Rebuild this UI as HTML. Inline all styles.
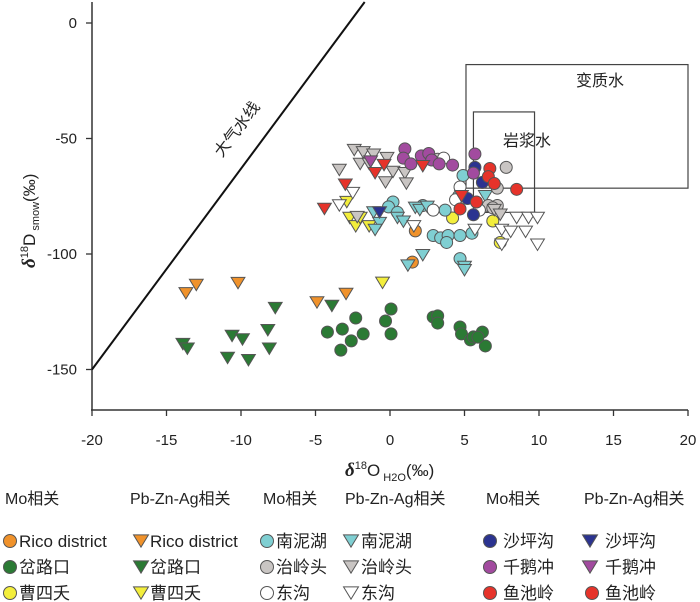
<!DOCTYPE html>
<html><head><meta charset="utf-8">
<style>
body{margin:0;background:#fff;width:700px;height:602px;overflow:hidden}
svg{display:block;font-family:"Liberation Sans","Noto Sans CJK SC",sans-serif}
</style></head>
<body>
<svg id="chart" width="700" height="602" viewBox="0 0 700 602">
<g id="axes"></g>
<g id="marks"></g>
<g id="legend"></g>
</svg>
<script>
const xTicks=[-20,-15,-10,-5,0,5,10,15,20];
const yTicks=[0,-50,-100,-150];
const ricoCirc=[[1.7,-90],[1.5,-103.5]];
const ricoTri=[[-13.7,-117],[-13.0,-113.4],[-10.2,-112.6],[-4.9,-121],[-2.95,-117.3]];
const chaCirc=[[-4.2,-133.8],[-3.2,-132.5],[-2.3,-127.7],[-1.8,-134.6],[-2.6,-137.6],[-3.3,-141.6],[0.07,-123.8],[-0.3,-129],[0.07,-134.6],[2.9,-127.3],[3.2,-126.8],[3.2,-129.9],[4.7,-131.6],[4.8,-134.6],[5.4,-137.2],[5.6,-135.9],[6.2,-133.8],[6.4,-139.8],[5.9,-136]];
const chaTri=[[-7.7,-123.4],[-3.9,-122.5],[-8.2,-133],[-8.1,-141],[-10.6,-135.5],[-9.9,-137],[-10.9,-145],[-9.5,-146],[-13.9,-139],[-13.6,-141]];
const caoCirc=[[4.2,-84.4],[6.9,-85.7],[7.4,-95]];
const caoTri=[[-2.7,-84.4],[-2.3,-88],[-2.0,-84.4],[-1.4,-88],[-2.9,-77.5],[-0.5,-112.5]];
const nanCirc=[[0.2,-77.5],[-0.1,-79.6],[0.5,-82],[2.2,-79],[3.7,-81],[4.9,-66],[2.9,-92],[3.4,-93],[3.9,-92],[4.7,-92],[3.8,-95],[4.7,-102],[5.5,-91],[4.6,-75]];
const nanTri=[[-1.1,-82],[-0.7,-86.6],[-1.0,-89.6],[0.5,-84.4],[0.9,-86],[1.7,-80],[2.0,-81],[2.5,-79.6],[6.4,-75],[2.2,-100.5],[1.2,-105],[5.0,-105.6],[5.0,-107]];
const yeCirc=[[7.8,-62.5],[7.2,-71.5],[6.6,-79],[7.2,-79],[6.9,-80],[3.2,-59]];
const yeTri=[[-2.4,-55],[-1.8,-56],[-1.1,-57],[-0.2,-58.5],[-2.0,-61],[-1.4,-61],[0.2,-64.5],[1.0,-65],[-0.3,-69],[1.1,-69.5],[-2.2,-84],[-3.4,-63.6],[7.0,-81],[7.4,-83]];
const dgCirc=[[3.6,-58.5],[4.7,-71],[4.4,-76.5],[2.9,-81],[6.0,-81]];
const dgTri=[[-2.5,-73.6],[-3.4,-79],[1.6,-88],[5.7,-89.6],[7.5,-89.6],[8.1,-90.4],[8.5,-84.4],[9.3,-84.4],[9.9,-84.4],[9.1,-90.4],[9.9,-96],[7.5,-96]];
const spCirc=[[5.7,-62.5],[6.2,-69],[5.2,-76],[5.6,-83]];
const spTri=[[-0.7,-82]];
const qeCirc=[[1.0,-54.5],[0.9,-58.5],[1.4,-61],[2.1,-57.5],[2.6,-56.5],[2.8,-59.3],[3.3,-61],[4.2,-61.5],[5.7,-56.7],[5.6,-65]];
const qeTri=[[-1.3,-60]];
const ycCirc=[[6.7,-63],[6.6,-66.5],[7.0,-69.5],[8.5,-72],[5.8,-77.5],[4.7,-80.5]];
const ycTri=[[-0.4,-61.5],[-1.0,-65],[2.2,-62],[-3.0,-70],[-4.4,-80.5],[4.8,-75]];

const C={orange:'#f0922b',green:'#2b7a34',yellow:'#f3ee3c',cyan:'#7fcfd2',gray:'#c9c5c3',white:'#ffffff',navy:'#2b3390',purple:'#a24b9f',red:'#e6332a'};
const series=[
 [ricoCirc,'c',C.orange,'rico-mo'],[ricoTri,'t',C.orange,'rico-pb'],
 [chaCirc,'c',C.green,'chalukou-mo'],[chaTri,'t',C.green,'chalukou-pb'],
 [caoCirc,'c',C.yellow,'caosiyao-mo'],[caoTri,'t',C.yellow,'caosiyao-pb'],
 [nanCirc,'c',C.cyan,'nannihu-mo'],[nanTri,'t',C.cyan,'nannihu-pb'],
 [yeCirc,'c',C.gray,'yelingtou-mo'],[yeTri,'t',C.gray,'yelingtou-pb'],
 [dgCirc,'c',C.white,'donggou-mo'],[dgTri,'t',C.white,'donggou-pb'],
 [spCirc,'c',C.navy,'shapinggou-mo'],[spTri,'t',C.navy,'shapinggou-pb'],
 [qeCirc,'c',C.purple,'qianechong-mo'],[qeTri,'t',C.purple,'qianechong-pb'],
 [ycCirc,'c',C.red,'yuchiling-mo'],[ycTri,'t',C.red,'yuchiling-pb']];

const NS='http://www.w3.org/2000/svg';
const X0=92,X1=688,XMIN=-20,XMAX=20;
const sx=v=>X0+(v-XMIN)/(XMAX-XMIN)*(X1-X0);
const sy=v=>23-v*2.31;
function el(tag,attrs,parent,text){const e=document.createElementNS(NS,tag);for(const k in attrs)e.setAttribute(k,attrs[k]);if(text!==undefined)e.textContent=text;parent.appendChild(e);return e;}
const axes=document.getElementById('axes'),marks=document.getElementById('marks'),leg=document.getElementById('legend');
const ink='#333';
let a=el('line',{x1:X0,y1:2,x2:X0,y2:410,stroke:ink,'stroke-width':1.5},axes);


a=el('line',{x1:X0-1,y1:410,x2:X1,y2:410,stroke:ink,'stroke-width':1.5},axes);


xTicks.forEach(v=>{
 const t=el('line',{x1:sx(v),y1:410,x2:sx(v),y2:416,stroke:ink,'stroke-width':1.3},axes);
 
 
 const l=el('text',{x:sx(v),y:445,'text-anchor':'middle','font-size':15,fill:'#222'},axes,String(v));
 
 
});
yTicks.forEach(v=>{
 const t=el('line',{x1:X0-6,y1:sy(v),x2:X0,y2:sy(v),stroke:ink,'stroke-width':1.3},axes);
 
 
 const l=el('text',{x:77,y:sy(v)+5,'text-anchor':'end','font-size':15,fill:'#222'},axes,String(v));
 
 
});
const mwl=el('line',{x1:sx(-20),y1:sy(-150),x2:sx(-1.7),y2:2,stroke:'#111','stroke-width':2},axes);


const mwlT=el('text',{x:0,y:0,'font-size':16,fill:'#222',transform:'translate(222,158) rotate(-53)'},axes,'大气水线');


const mb=el('rect',{x:sx(5.1),y:sy(-18),width:sx(20)-sx(5.1),height:sy(-71.5)-sy(-18),fill:'none',stroke:'#444','stroke-width':1.2},axes);


const gb=el('rect',{x:sx(5.6),y:sy(-38.5),width:sx(9.7)-sx(5.6),height:sy(-82)-sy(-38.5),fill:'none',stroke:'#444','stroke-width':1.2},axes);


let lb=el('text',{x:576,y:86,'font-size':16,fill:'#222'},axes,'变质水');


lb=el('text',{x:503,y:146,'font-size':16,fill:'#222'},axes,'岩浆水');


const xt=el('text',{x:345,y:476,'font-size':17,fill:'#222'},axes);


xt.innerHTML='<tspan font-style="italic" font-weight="bold" font-family="Liberation Serif" font-size="19">δ</tspan><tspan font-size="11" dy="-7">18</tspan><tspan dy="7">O</tspan><tspan font-size="11" dy="5"> H2O</tspan><tspan dy="-5">(‰)</tspan>';
const yt=el('text',{x:0,y:0,'font-size':17,fill:'#222',transform:'translate(35,268) rotate(-90)'},axes);


yt.innerHTML='<tspan font-style="italic" font-weight="bold" font-family="Liberation Serif" font-size="19">δ</tspan><tspan font-size="11" dy="-7">18</tspan><tspan dy="7">D</tspan><tspan font-size="11" dy="4"> smow</tspan><tspan dy="-4">(‰)</tspan>';

function marker(type,cx,cy,fill,parent,r){
 r=r||6;
 if(type==='c') return el('circle',{cx:cx,cy:cy,r:r,fill:fill,stroke:'#555','stroke-width':1},parent);
 const w=r*1.15,h=r*1.9;
 return el('polygon',{points:`${cx-w},${cy-h/2} ${cx+w},${cy-h/2} ${cx},${cy+h/2}`,fill:fill,stroke:'#555','stroke-width':1},parent);
}
series.forEach(([data,type,col,name])=>{
 data.forEach(([x,y])=>{
  const m=marker(type,sx(x),sy(y),col,marks);
  
  
 });
});
const heads=[[5,'Mo相关'],[130,'Pb-Zn-Ag相关'],[263,'Mo相关'],[345,'Pb-Zn-Ag相关'],[486,'Mo相关'],[584,'Pb-Zn-Ag相关']];
heads.forEach(([x,t])=>{
 const h=el('text',{x:x,y:504,'font-size':16,fill:'#222'},leg,t);
 
 
});
const rows=[547,573,599];
const items=[
 [10,19,0,'c',C.orange,'Rico district'],[10,19,1,'c',C.green,'岔路口'],[10,19,2,'c',C.yellow,'曹四夭'],
 [141,150,0,'t',C.orange,'Rico district'],[141,150,1,'t',C.green,'岔路口'],[141,150,2,'t',C.yellow,'曹四夭'],
 [267,276,0,'c',C.cyan,'南泥湖'],[267,276,1,'c',C.gray,'治岭头'],[267,276,2,'c',C.white,'东沟'],
 [351,361,0,'t',C.cyan,'南泥湖'],[351,361,1,'t',C.gray,'治岭头'],[351,361,2,'t',C.white,'东沟'],
 [490,503,0,'c',C.navy,'沙坪沟'],[490,503,1,'c',C.purple,'千鹅冲'],[490,503,2,'c',C.red,'鱼池岭'],
 [590,605,0,'t',C.navy,'沙坪沟'],[590,605,1,'t',C.purple,'千鹅冲'],[592,605,2,'c',C.red,'鱼池岭']];
items.forEach(([mx,tx,ri,type,col,label])=>{
 const y=rows[ri];
 const g=el('g',{},leg);
 
 
 marker(type,mx,y-6,col,g,6.5);
 el('text',{x:tx,y:y,'font-size':17,fill:'#222'},g,label);
});
</script>
</body></html>
